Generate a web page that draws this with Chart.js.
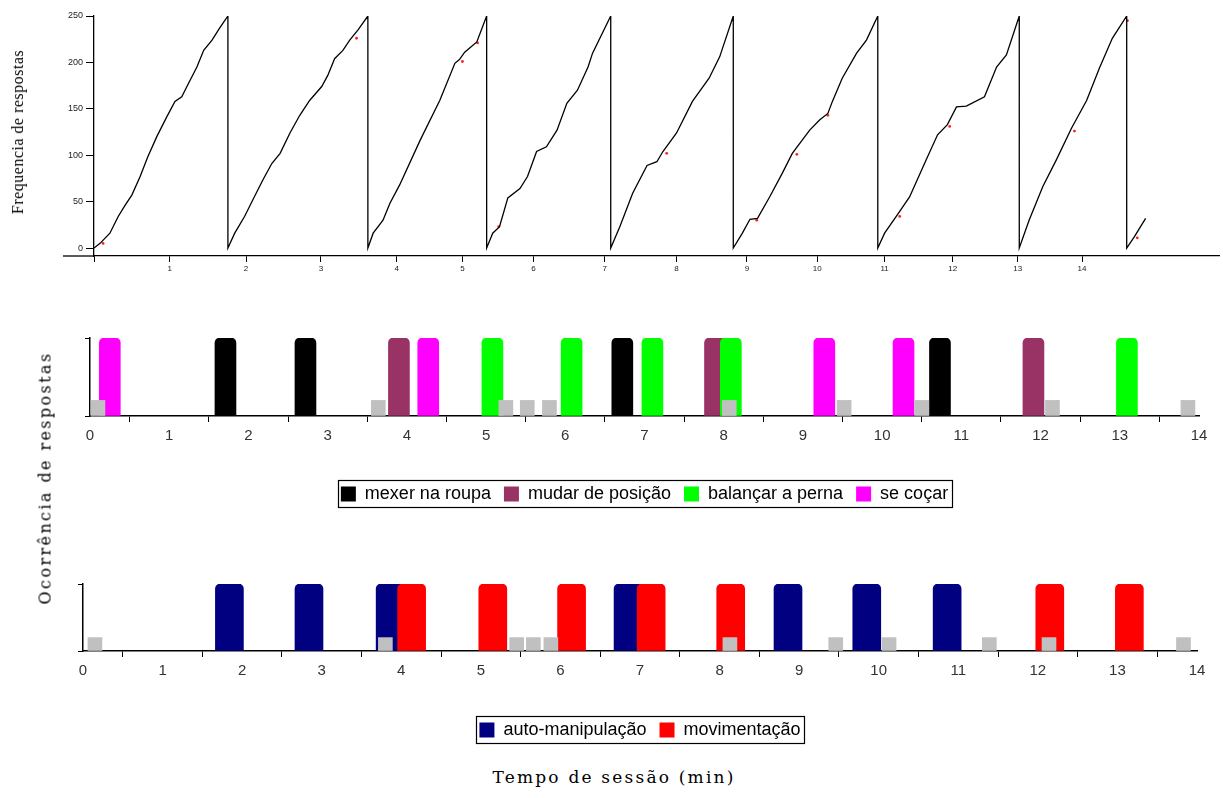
<!DOCTYPE html>
<html>
<head>
<meta charset="utf-8">
<script src="https://cdn.jsdelivr.net/npm/chart.js@4.4.0/dist/chart.umd.min.js"></script>
<style>
  body { margin: 0; background: #fff; width: 1223px; height: 798px; position: relative; overflow: hidden; }
  canvas { position: absolute; left: 0; }
  .ttl { position: absolute; font-family: "DejaVu Serif", serif; color: #000; white-space: nowrap; transform: translate(-50%, -50%); }
  .rot { transform: translate(-50%, -50%) rotate(-90deg); }
</style>
</head>
<body>
<canvas id="record" width="1223" height="282" style="top:0"></canvas>
<canvas id="respostas" width="1223" height="213" style="top:300px"></canvas>
<canvas id="categorias" width="1223" height="229" style="top:520px"></canvas>

<div class="ttl rot" style="left:18px;top:132px;font-family:'Liberation Serif',serif;font-size:16px;letter-spacing:0.5px">Frequencia de respostas</div>
<div class="ttl rot" style="left:45px;top:478px;font-size:16px;letter-spacing:2.4px">Ocorrência de respostas</div>
<div class="ttl" style="left:614px;top:777px;font-size:17px;letter-spacing:2.2px">Tempo de sessão (min)</div>

<script>
// registro acumulado (tempo na escala do registrador, respostas acumuladas)
var recordTime = [0, 0.08, 0.21, 0.32, 0.41, 0.50, 0.61, 0.71, 0.83, 0.96, 1.07, 1.16, 1.24, 1.36, 1.45, 1.56, 1.66, 1.77,
  1.77, 1.86, 1.99, 2.10, 2.23, 2.35, 2.46, 2.59, 2.72, 2.85, 3.01, 3.09, 3.18, 3.29, 3.38, 3.49, 3.62,
  3.62, 3.69, 3.82, 3.91, 4.04, 4.31, 4.57, 4.77, 4.83, 4.90, 5.06, 5.19,
  5.19, 5.27, 5.36, 5.47, 5.63, 5.73, 5.85, 5.98, 6.12, 6.25, 6.39, 6.53, 6.59, 6.83,
  6.83, 6.95, 7.12, 7.31, 7.44, 7.52, 7.70, 7.91, 8.13, 8.27, 8.45,
  8.45, 8.57, 8.67, 8.77, 8.93, 9.10, 9.23, 9.46, 9.59, 9.70, 9.76, 9.89, 10.08, 10.21, 10.36,
  10.36, 10.45, 10.62, 10.78, 11.00, 11.15, 11.28, 11.40, 11.53, 11.77, 11.93, 12.06, 12.23,
  12.23, 12.36, 12.54, 12.72, 12.92, 13.12, 13.29, 13.46, 13.65,
  13.65, 13.75, 13.90];
var recordCount = [0, 5, 16, 34, 46, 57, 77, 98, 120, 141, 158, 163, 176, 195, 213, 224, 237, 250,
  0, 16, 34, 52, 73, 91, 102, 124, 143, 159, 174, 186, 204, 213, 224, 235, 250,
  0, 16, 30, 48, 68, 116, 159, 199, 203, 211, 222, 250,
  0, 16, 23, 54, 64, 77, 104, 109, 127, 156, 170, 195, 210, 250,
  0, 23, 59, 89, 93, 104, 124, 158, 183, 206, 250,
  0, 16, 31, 32, 55, 81, 102, 127, 138, 145, 158, 183, 210, 224, 250,
  0, 16, 36, 55, 95, 122, 133, 152, 153, 163, 195, 208, 250,
  0, 30, 66, 95, 129, 159, 194, 226, 250,
  0, 12, 32];
// marcas vermelhas do registrador
var markTime = [0.12, 3.47, 4.87, 5.07, 5.35, 7.57, 8.76, 9.29, 9.70, 10.65, 11.31, 12.96, 13.66, 13.79];
var markCount = [5, 226, 201, 221, 23, 102, 30, 101, 143, 34, 131, 126, 245, 11];
// posicao dos rotulos do eixo do registro
var topTickPos = [0, 1.00, 2.01, 3.00, 4.00, 4.87, 5.81, 6.75, 7.70, 8.63, 9.56, 10.45, 11.35, 12.21, 13.06];
var topTickLabels = ['', '1', '2', '3', '4', '5', '6', '7', '8', '9', '10', '11', '12', '13', '14'];
var countTicks = [0, 50, 100, 150, 200, 250];

// ocorrencias (minuto)
var mexerRoupa = [1.71, 2.72, 6.72, 10.73];
var mudarPosicao = [3.90, 7.89, 11.91];
var balancarPerna = [5.08, 6.08, 7.10, 8.09, 13.09];
var seCocar = [0.25, 4.27, 9.27, 10.27];
var marcasMeio = [0.10, 3.64, 5.25, 5.52, 5.80, 8.07, 9.52, 10.50, 12.15, 13.86];

var autoManipulacao = [1.84, 2.84, 3.86, 6.85, 8.86, 9.85, 10.86];
var movimentacao = [4.13, 5.15, 6.14, 7.14, 8.14, 12.15, 13.15];
var marcasBaixo = [0.15, 3.80, 5.45, 5.66, 5.88, 8.13, 9.46, 10.13, 11.39, 12.14, 13.83];

var occurrence = 1;
var markerLevel = 0.2;

function pts(xs, ys) {
  return xs.map(function(x, i){ return {x: x, y: Array.isArray(ys) ? ys[i] : ys}; });
}

// moldura em volta da legenda
var legendFrame = {
  id: 'legendFrame',
  afterDraw: function(chart) {
    var boxes = chart.legend && chart.legend.legendHitBoxes;
    if (!boxes || !boxes.length) return;
    var l = Math.min.apply(null, boxes.map(function(b){ return b.left; })) - 3;
    var r = Math.max.apply(null, boxes.map(function(b){ return b.left + b.width; })) + 4;
    var t = Math.min.apply(null, boxes.map(function(b){ return b.top; })) - 5;
    var bt = Math.max.apply(null, boxes.map(function(b){ return b.top + b.height; })) + 4;
    var ctx = chart.ctx;
    ctx.save();
    ctx.strokeStyle = '#000';
    ctx.lineWidth = 1.2;
    ctx.strokeRect(Math.round(l) + 0.5, Math.round(t) + 0.5, Math.round(r - l), Math.round(bt - t));
    ctx.restore();
  }
};

// eixo x do registro comeca antes do eixo y
var axisStub = {
  id: 'axisStub',
  afterDraw: function(chart) {
    var a = chart.chartArea, ctx = chart.ctx;
    ctx.save();
    ctx.strokeStyle = '#000';
    ctx.lineWidth = 1.3;
    ctx.beginPath();
    ctx.moveTo(63, a.bottom);
    ctx.lineTo(a.left, a.bottom);
    ctx.stroke();
    ctx.restore();
  }
};

new Chart(document.getElementById('record'), {
  type: 'line',
  data: {
    datasets: [{
      data: pts(recordTime, recordCount),
      borderColor: '#000',
      borderWidth: 1.3,
      pointRadius: 0,
      tension: 0
    }, {
      data: pts(markTime, markCount),
      showLine: false,
      pointRadius: 1.4,
      pointBorderWidth: 0,
      pointBackgroundColor: '#ff2020'
    }]
  },
  options: {
    responsive: false,
    animation: false,
    layout: { padding: { top: 16, right: 3, left: 0, bottom: 0 } },
    plugins: { legend: { display: false }, tooltip: { enabled: false } },
    scales: {
      x: {
        type: 'linear', min: 0, max: 14.87,
        afterBuildTicks: function(s){ s.ticks = topTickPos.map(function(v){ return {value: v}; }); },
        afterFit: function(s){ s.height = 26; },
        ticks: {
          autoSkip: false, maxRotation: 0, padding: 2, color: '#222',
          font: { family: 'Liberation Sans', size: 8 },
          callback: function(v, i){ return topTickLabels[i]; }
        },
        grid: { drawOnChartArea: false, tickLength: 6, color: '#000' },
        border: { color: '#000', width: 1.3 }
      },
      y: {
        min: -8.6, max: 250,
        afterBuildTicks: function(s){ s.ticks = countTicks.map(function(v){ return {value: v}; }); },
        afterFit: function(s){ s.width = 94; },
        ticks: { color: '#222', padding: 3, font: { family: 'Liberation Sans', size: 9 } },
        grid: { drawOnChartArea: false, tickLength: 8, color: '#000' },
        border: { color: '#000', width: 1.3 }
      }
    }
  },
  plugins: [axisStub]
});

var topRound = { topLeft: 5, topRight: 5, bottomLeft: 0, bottomRight: 0 };

function barSet(label, times, color, level, thick, order, round) {
  return {
    label: label,
    data: pts(times, level),
    backgroundColor: color,
    borderWidth: 0,
    barThickness: thick,
    borderRadius: round ? topRound : 0,
    grouped: false,
    order: order
  };
}

function eventOptions(axisLeft, areaTop, padRight, axisHeight) {
  return {
    responsive: false,
    animation: false,
    layout: { padding: { top: areaTop, right: padRight, left: 0, bottom: 0 } },
    plugins: {
      tooltip: { enabled: false },
      legend: {
        position: 'bottom',
        fullSize: false,
        labels: {
          color: '#000',
          boxWidth: 15, boxHeight: 15, padding: 13,
          font: { family: 'Liberation Sans', size: 18 },
          filter: function(item){ return item.text !== 'marca'; },
          sort: function(a, b){ return a.datasetIndex - b.datasetIndex; }
        }
      }
    },
    scales: {
      x: {
        type: 'linear', min: 0, max: 14, offset: false,
        afterFit: function(s){ s.height = axisHeight; },
        ticks: { stepSize: 1, color: '#333', padding: 5, font: { family: 'Liberation Sans', size: 15 } },
        grid: { drawOnChartArea: false, tickLength: 6, color: '#000' },
        border: { color: '#000', width: 1.5 }
      },
      y: {
        min: 0, max: 1,
        afterBuildTicks: function(s){ s.ticks = [{value: 0}, {value: occurrence}]; },
        afterFit: function(s){ s.width = axisLeft; },
        ticks: { display: false },
        grid: { drawOnChartArea: false, tickLength: 5, color: '#000' },
        border: { color: '#000', width: 1.5 }
      }
    }
  };
}

new Chart(document.getElementById('respostas'), {
  type: 'bar',
  data: {
    datasets: [
      barSet('mexer na roupa', mexerRoupa, '#000000', occurrence, 21, 1, true),
      barSet('mudar de posição', mudarPosicao, '#993366', occurrence, 21, 2, true),
      barSet('balançar a perna', balancarPerna, '#00ff00', occurrence, 21, 1, true),
      barSet('se coçar', seCocar, '#ff00ff', occurrence, 21, 1, true),
      barSet('marca', marcasMeio, '#c0c0c0', markerLevel, 14, 0, false)
    ]
  },
  options: eventOptions(90, 38, 24, 56),
  plugins: [legendFrame]
});

new Chart(document.getElementById('categorias'), {
  type: 'bar',
  data: {
    datasets: [
      barSet('auto-manipulação', autoManipulacao, '#000080', occurrence, 28, 2, true),
      barSet('movimentação', movimentacao, '#ff0000', occurrence, 28, 1, true),
      barSet('marca', marcasBaixo, '#c0c0c0', markerLevel, 14, 0, false)
    ]
  },
  options: eventOptions(83, 64, 26, 57),
  plugins: [legendFrame]
});
</script>
</body>
</html>
